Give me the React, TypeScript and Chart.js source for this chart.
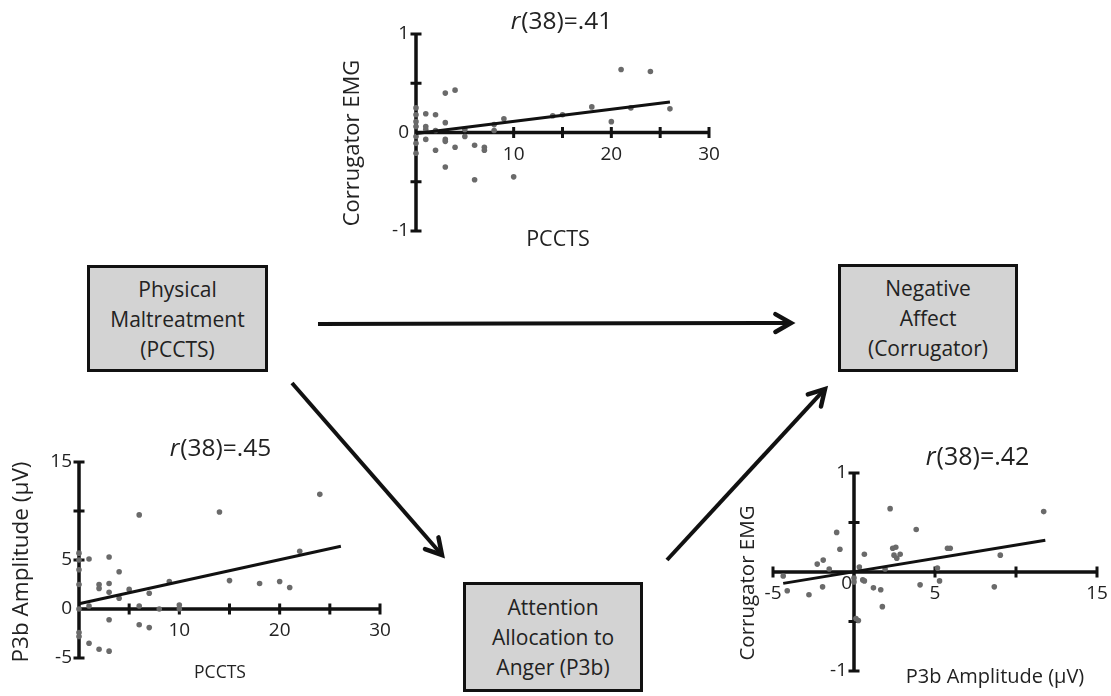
import React, { useEffect, useRef } from 'react';
import { Chart, registerables } from 'chart.js';

Chart.register(...registerables);

const FONT = '"Open Sans", "Noto Sans", "DejaVu Sans", sans-serif';
const INK = '#111111';
const TEXT = '#222222';
const POINT_COLOR = '#6a6a6a';

// ---------- Top panel: PCCTS vs Corrugator EMG ----------
const topPccts = [0, 0, 0, 0, 0, 0, 0, 1, 1, 1, 1, 2, 2, 2, 3, 3, 3, 3, 3, 4, 4, 5, 5, 6, 6, 7, 7, 8, 8, 9, 10, 14, 15, 18, 20, 21, 22, 24, 26];
const topEmg = [0.25, 0.18, 0.11, 0.06, -0.04, -0.11, -0.21, 0.19, 0.06, 0.03, -0.07, 0.18, 0.02, -0.18, 0.40, 0.10, -0.07, -0.09, -0.35, 0.43, -0.15, 0.03, -0.04, -0.13, -0.48, -0.15, -0.18, 0.08, 0.02, 0.14, -0.45, 0.17, 0.18, 0.26, 0.11, 0.64, 0.25, 0.62, 0.24];
const topFitX = [0, 26];
const topFitY = [-0.01, 0.31];
const topXTicks = [5, 10, 15, 20, 25, 30];
const topYTicks = [1, 0.5, -0.5, -1];
const topXLabels = [10, 20, 30];
const topYLabels = [1, 0, -1];

// ---------- Bottom-left panel: PCCTS vs P3b amplitude ----------
const leftPccts = [0, 0, 0, 0, 0, 0, 0, 1, 1, 1, 2, 2, 2, 3, 3, 3, 3, 3, 4, 4, 5, 6, 6, 6, 7, 7, 8, 9, 10, 10, 14, 15, 18, 20, 21, 22, 24];
const leftP3b = [5.7, 5.0, 4.0, 2.5, 0, -2.4, -2.8, 5.1, 0.3, -3.5, 2.5, 2.1, -4.1, 5.3, 2.6, 1.7, -1.1, -4.3, 3.8, 1.1, 2.0, 9.6, 0.3, -1.6, 1.6, -1.9, 0, 2.8, 0.4, 0, 9.9, 2.9, 2.6, 2.8, 2.2, 5.9, 11.7];
const leftFitX = [0, 26.1];
const leftFitY = [0.54, 6.4];
const leftXTicks = [5, 10, 15, 20, 25, 30];
const leftYTicks = [15, 10, 5, -5];
const leftXLabels = [10, 20, 30];
const leftYLabels = [15, 5, 0, -5];

// ---------- Bottom-right panel: P3b amplitude vs Corrugator EMG ----------
const rightP3b = [-4.37, -4.12, -2.78, -2.27, -1.9, -1.94, -1.53, -1.07, -0.87, 0, 0, 0.12, 0.27, 0.33, 0.54, 0.64, 0.64, 1.2, 1.65, 1.75, 1.92, 2.23, 2.39, 2.58, 2.47, 2.64, 2.85, 3.84, 4.08, 5.15, 5.28, 5.77, 5.94, 8.66, 9.03, 11.71];
const rightEmg = [-0.04, -0.19, -0.23, 0.08, 0.12, -0.15, 0.03, 0.40, 0.23, -0.06, -0.10, -0.47, -0.49, 0.05, -0.08, 0.18, -0.09, -0.16, -0.18, -0.35, 0.03, 0.64, 0.24, 0.25, 0.17, 0.14, 0.18, 0.43, -0.13, 0.04, -0.09, 0.24, 0.24, -0.15, 0.17, 0.61];
const rightFitX = [-4.37, 11.81];
const rightFitY = [-0.115, 0.32];
const rightXTicks = [-5, 5, 10, 15];
const rightYTicks = [1, 0.5, -0.5, -1];
const rightXLabels = [-5, 0, 5, 15];
const rightYLabels = [1, -1];

type Panel = {
  left: number; top: number; width: number; height: number;
  padding: { left: number; right: number; top: number; bottom: number };
  xMin: number; xMax: number; yMin: number; yMax: number;
  xs: number[]; ys: number[]; fitX: number[]; fitY: number[];
  xTicks: number[]; yTicks: number[]; xLabels: number[]; yLabels: number[];
  zeroXLabelAtCorner?: boolean;
  stat: string; statPos: [number, number]; statSize: number;
  xTitle: string; xTitlePos: [number, number]; xTitleSize: number;
  yTitle: string; yTitlePos: [number, number]; yTitleSize: number;
};

const panels: Panel[] = [
  {
    left: 330, top: 0, width: 400, height: 250,
    padding: { left: 86, right: 21, top: 34, bottom: 19 },
    xMin: 0, xMax: 30, yMin: -1, yMax: 1,
    xs: topPccts, ys: topEmg, fitX: topFitX, fitY: topFitY,
    xTicks: topXTicks, yTicks: topYTicks, xLabels: topXLabels, yLabels: topYLabels,
    stat: '(38)=.41', statPos: [231, 22], statSize: 24.5,
    xTitle: 'PCCTS', xTitlePos: [228, 240], xTitleSize: 21.5,
    yTitle: 'Corrugator EMG', yTitlePos: [23, 143], yTitleSize: 22,
  },
  {
    left: 0, top: 420, width: 400, height: 276,
    padding: { left: 79, right: 20, top: 42, bottom: 38 },
    xMin: 0, xMax: 30, yMin: -5, yMax: 15,
    xs: leftPccts, ys: leftP3b, fitX: leftFitX, fitY: leftFitY,
    xTicks: leftXTicks, yTicks: leftYTicks, xLabels: leftXLabels, yLabels: leftYLabels,
    stat: '(38)=.45', statPos: [220, 29], statSize: 24.5,
    xTitle: 'PCCTS', xTitlePos: [220, 253], xTitleSize: 17.5,
    yTitle: 'P3b Amplitude (\u00B5V)', yTitlePos: [22, 142], yTitleSize: 22.5,
  },
  {
    left: 730, top: 430, width: 381, height: 266,
    padding: { left: 43, right: 14, top: 43, bottom: 25 },
    xMin: -5, xMax: 15, yMin: -1, yMax: 1,
    xs: rightP3b, ys: rightEmg, fitX: rightFitX, fitY: rightFitY,
    xTicks: rightXTicks, yTicks: rightYTicks, xLabels: rightXLabels, yLabels: rightYLabels,
    zeroXLabelAtCorner: true,
    stat: '(38)=.42', statPos: [247, 28], statSize: 25,
    xTitle: 'P3b Amplitude (\u00B5V)', xTitlePos: [265, 247], xTitleSize: 20,
    yTitle: 'Corrugator EMG', yTitlePos: [18, 153], yTitleSize: 20.5,
  },
];

const boxes = [
  { left: 87, top: 265, width: 181, height: 107, lines: ['Physical', 'Maltreatment', '(PCCTS)'] },
  { left: 838, top: 264, width: 180, height: 108, lines: ['Negative', 'Affect', '(Corrugator)'] },
  { left: 463, top: 582, width: 180, height: 110, lines: ['Attention', 'Allocation to', 'Anger (P3b)'] },
];

const arrows = [
  { x1: 318, y1: 324, x2: 791, y2: 323 },
  { x1: 292, y1: 383, x2: 442, y2: 555 },
  { x1: 667, y1: 560, x2: 825, y2: 389 },
];

function makePlugin(p: Panel) {
  return {
    id: 'axesAndText',
    beforeDatasetsDraw(chart: any) {
      const ctx = chart.ctx;
      const xs = chart.scales.x;
      const ys = chart.scales.y;
      const ox = xs.getPixelForValue(0);
      const oy = ys.getPixelForValue(0);
      ctx.save();
      ctx.strokeStyle = INK;
      ctx.lineWidth = 3.5;
      ctx.beginPath();
      ctx.moveTo(xs.getPixelForValue(p.xMin), oy);
      ctx.lineTo(xs.getPixelForValue(p.xMax), oy);
      ctx.moveTo(ox, ys.getPixelForValue(p.yMin));
      ctx.lineTo(ox, ys.getPixelForValue(p.yMax));
      ctx.stroke();
      ctx.lineWidth = 3;
      ctx.beginPath();
      p.xTicks.forEach((v) => {
        const px = xs.getPixelForValue(v);
        ctx.moveTo(px, oy - 5.5);
        ctx.lineTo(px, oy + 5.5);
      });
      p.yTicks.forEach((v) => {
        const py = ys.getPixelForValue(v);
        ctx.moveTo(ox - 5.5, py);
        ctx.lineTo(ox + 5.5, py);
      });
      ctx.stroke();
      ctx.restore();
    },
    afterDraw(chart: any) {
      const ctx = chart.ctx;
      const xs = chart.scales.x;
      const ys = chart.scales.y;
      const ox = xs.getPixelForValue(0);
      const oy = ys.getPixelForValue(0);
      ctx.save();
      ctx.fillStyle = TEXT;
      ctx.font = `19px ${FONT}`;
      ctx.textBaseline = 'middle';
      p.xLabels.forEach((v) => {
        if (v === 0 && p.zeroXLabelAtCorner) {
          ctx.textAlign = 'right';
          ctx.fillText(String(v), ox - 2, oy + 12);
        } else {
          ctx.textAlign = 'center';
          ctx.fillText(String(v), xs.getPixelForValue(v), oy + 22);
        }
      });
      ctx.textAlign = 'right';
      p.yLabels.forEach((v) => {
        ctx.fillText(String(v), ox - 7, ys.getPixelForValue(v));
      });
      // stat title: italic r followed by the rest
      const sf = `${p.statSize}px ${FONT}`;
      ctx.font = `italic ${sf}`;
      const w1 = ctx.measureText('r').width;
      ctx.font = sf;
      const w2 = ctx.measureText(p.stat).width;
      const sx = p.statPos[0] - (w1 + w2) / 2;
      ctx.textAlign = 'left';
      ctx.font = `italic ${sf}`;
      ctx.fillText('r', sx, p.statPos[1]);
      ctx.font = sf;
      ctx.fillText(p.stat, sx + w1 + 1, p.statPos[1]);
      // axis titles
      ctx.textAlign = 'center';
      ctx.font = `${p.xTitleSize}px ${FONT}`;
      ctx.fillText(p.xTitle, p.xTitlePos[0], p.xTitlePos[1]);
      ctx.font = `${p.yTitleSize}px ${FONT}`;
      ctx.translate(p.yTitlePos[0], p.yTitlePos[1]);
      ctx.rotate(-Math.PI / 2);
      ctx.fillText(p.yTitle, 0, 0);
      ctx.restore();
    },
  };
}

function ScatterPanel({ p }: { p: Panel }) {
  const ref = useRef<HTMLCanvasElement | null>(null);
  useEffect(() => {
    if (!ref.current) return;
    const chart = new Chart(ref.current, {
      type: 'scatter',
      data: {
        datasets: [
          {
            type: 'line',
            data: p.fitX.map((x, i) => ({ x, y: p.fitY[i] })),
            borderColor: INK,
            borderWidth: 3,
            pointRadius: 0,
            fill: false,
            clip: false,
            order: 0,
          } as any,
          {
            type: 'scatter',
            data: p.xs.map((x, i) => ({ x, y: p.ys[i] })),
            pointRadius: 2.8,
            backgroundColor: POINT_COLOR,
            borderWidth: 0,
            clip: false,
            order: 1,
          } as any,
        ],
      },
      options: {
        animation: false,
        responsive: false,
        maintainAspectRatio: false,
        events: [],
        layout: { padding: p.padding },
        plugins: { legend: { display: false }, tooltip: { enabled: false }, title: { display: false } },
        scales: {
          x: { type: 'linear', min: p.xMin, max: p.xMax, display: false },
          y: { type: 'linear', min: p.yMin, max: p.yMax, display: false },
        },
      } as any,
      plugins: [makePlugin(p)],
    });
    let alive = true;
    if ((document as any).fonts && (document as any).fonts.ready) {
      (document as any).fonts.ready.then(() => { if (alive) chart.draw(); });
    }
    return () => { alive = false; chart.destroy(); };
  }, [p]);
  return (
    <canvas
      ref={ref}
      width={p.width}
      height={p.height}
      style={{ position: 'absolute', left: p.left, top: p.top, width: p.width, height: p.height }}
    />
  );
}

function Arrow({ x1, y1, x2, y2 }: { x1: number; y1: number; x2: number; y2: number }) {
  const a = Math.atan2(y2 - y1, x2 - x1);
  const L = 18;
  const s = 0.52;
  const p1 = [x2 - L * Math.cos(a - s), y2 - L * Math.sin(a - s)];
  const p2 = [x2 - L * Math.cos(a + s), y2 - L * Math.sin(a + s)];
  return (
    <g>
      <line x1={x1} y1={y1} x2={x2 - Math.cos(a) * 2} y2={y2 - Math.sin(a) * 2} stroke={INK} strokeWidth={4} />
      <polyline
        points={`${p1[0]},${p1[1]} ${x2},${y2} ${p2[0]},${p2[1]}`}
        fill="none"
        stroke={INK}
        strokeWidth={4.5}
        strokeLinejoin="miter"
        strokeLinecap="round"
      />
    </g>
  );
}

export default function App() {
  return (
    <div style={{ position: 'absolute', left: 0, top: 0, width: 1111, height: 696, background: '#ffffff', overflow: 'hidden' }}>
      <svg width={1111} height={696} style={{ position: 'absolute', left: 0, top: 0 }}>
        {arrows.map((a, i) => (
          <Arrow key={i} {...a} />
        ))}
      </svg>
      {boxes.map((b, i) => (
        <div
          key={i}
          style={{
            position: 'absolute',
            left: b.left,
            top: b.top,
            width: b.width,
            height: b.height,
            boxSizing: 'border-box',
            border: '3px solid #111',
            background: '#d3d3d3',
            display: 'flex',
            flexDirection: 'column',
            justifyContent: 'center',
            alignItems: 'center',
            fontFamily: FONT,
            fontSize: 21,
            lineHeight: '30px',
            color: TEXT,
            textAlign: 'center',
          }}
        >
          {b.lines.map((l, j) => (
            <div key={j}>{l}</div>
          ))}
        </div>
      ))}
      {panels.map((p, i) => (
        <ScatterPanel key={i} p={p} />
      ))}
    </div>
  );
}
